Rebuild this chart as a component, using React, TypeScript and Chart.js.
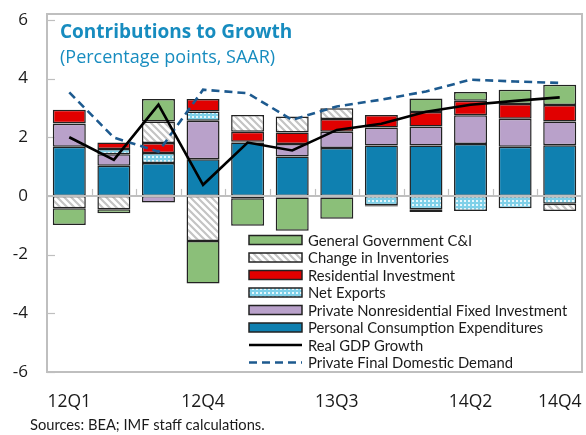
import React, { useEffect, useRef } from 'react';
import { Chart, registerables } from 'chart.js';
Chart.register(...registerables);

const quarters = ['12Q1', '12Q2', '12Q3', '12Q4', '13Q1', '13Q2', '13Q3', '13Q4', '14Q1', '14Q2', '14Q3', '14Q4'];
const shownLabels = ['12Q1', '12Q4', '13Q3', '14Q2', '14Q4'];
const yTicks = [-6, -4, -2, 0, 2, 4, 6];

const personalConsumption = [1.68, 1.03, 1.12, 1.25, 1.82, 1.34, 1.63, 1.72, 1.72, 1.77, 1.68, 1.73];
const privateNonresidential = [0.78, 0.39, -0.22, 1.31, 0.03, 0.43, 0.56, 0.61, 0.65, 0.98, 0.95, 0.81];
const netExports = [0.02, 0.18, 0.34, 0.32, -0.08, -0.05, -0.05, -0.32, -0.45, -0.51, -0.42, -0.27];
const residentialInvestment = [0.46, 0.22, 0.34, 0.42, 0.34, 0.39, 0.43, 0.43, 0.49, 0.49, 0.50, 0.56];
const changeInInventories = [-0.42, -0.45, 0.74, -1.54, 0.57, 0.55, 0.37, -0.04, -0.10, 0, 0, -0.24];
const generalGovernment = [-0.57, -0.14, 0.76, -1.44, -0.94, -1.14, -0.73, 0, 0.46, 0.30, 0.49, 0.69];
const realGdpGrowth = [2.0, 1.23, 3.11, 0.38, 1.82, 1.55, 2.25, 2.46, 2.87, 3.11, 3.24, 3.36];
const privateFinalDemand = [3.53, 1.99, 1.51, 3.62, 3.5, 2.59, 3.05, 3.28, 3.56, 3.96, 3.90, 3.85];

const titleText = 'Contributions to Growth';
const subtitleText = '(Percentage points, SAAR)';
const sourceText = 'Sources: BEA; IMF staff calculations.';

function makeHatch(): CanvasPattern | string {
  const c = document.createElement('canvas');
  c.width = 7; c.height = 7;
  const g = c.getContext('2d');
  if (!g) return '#ddd';
  g.fillStyle = '#ffffff';
  g.fillRect(0, 0, 7, 7);
  g.strokeStyle = '#c4c4c4';
  g.lineWidth = 2.2;
  g.beginPath();
  g.moveTo(-1, -1); g.lineTo(8, 8);
  g.moveTo(-8, -1); g.lineTo(1, 8);
  g.moveTo(6, -1); g.lineTo(15, 8);
  g.stroke();
  return g.createPattern(c, 'repeat') || '#ddd';
}

function makeDots(): CanvasPattern | string {
  const c = document.createElement('canvas');
  c.width = 4; c.height = 4;
  const g = c.getContext('2d');
  if (!g) return '#8fd4ea';
  g.fillStyle = '#7fd0e8';
  g.fillRect(0, 0, 4, 4);
  g.fillStyle = '#e6f7fc';
  g.fillRect(0, 0, 2, 2);
  return g.createPattern(c, 'repeat') || '#8fd4ea';
}

export default function App() {
  const ref = useRef<HTMLCanvasElement | null>(null);

  useEffect(() => {
    const canvas = ref.current;
    if (!canvas) return;
    const hatch = makeHatch();
    const dots = makeDots();
    const barBorder = '#222222';

    const barDs = (label: string, data: number[], fill: any) => ({
      type: 'bar' as const,
      label,
      data,
      backgroundColor: fill,
      borderColor: barBorder,
      borderWidth: 1.5,
      borderSkipped: false,
      barPercentage: 0.74,
      categoryPercentage: 1,
      order: 1,
    });

    const datasets: any[] = [
      barDs('Personal Consumption Expenditures', personalConsumption, '#0f80b0'),
      barDs('Private Nonresidential Fixed Investment', privateNonresidential, '#b9a1ca'),
      barDs('Net Exports', netExports, dots),
      barDs('Residential Investment', residentialInvestment, '#e10000'),
      barDs('Change in Inventories', changeInInventories, hatch),
      barDs('General Government C&I', generalGovernment, '#8bbf79'),
      {
        type: 'line', label: 'Real GDP Growth', data: realGdpGrowth, stack: 'gdp',
        borderColor: '#000000', borderWidth: 2.6, pointRadius: 0, tension: 0, fill: false, order: 0,
      },
      {
        type: 'line', label: 'Private Final Domestic Demand', data: privateFinalDemand, stack: 'pfdd',
        borderColor: '#1d5a8f', borderWidth: 2.6, borderDash: [8, 5], pointRadius: 0, tension: 0, fill: false, order: 0,
      },
    ];

    const legendOrder = [5, 4, 3, 2, 1, 0, 6, 7];

    const decor = {
      id: 'decor',
      beforeDatasetsDraw(chart: any) {
        const { ctx, chartArea } = chart;
        const y = chart.scales.y;
        ctx.save();
        ctx.strokeStyle = '#bfbfbf';
        ctx.lineWidth = 2;
        ctx.strokeRect(chartArea.left, chartArea.top, chartArea.right - chartArea.left, chartArea.bottom - chartArea.top);
        ctx.lineWidth = 1.2;
        yTicks.forEach((v) => {
          const py = Math.round(y.getPixelForValue(v)) + 0.5;
          ctx.beginPath();
          ctx.moveTo(chartArea.left, py);
          ctx.lineTo(chartArea.left + 8, py);
          ctx.stroke();
        });
        ctx.restore();
      },
      afterDatasetsDraw(chart: any) {
        const { ctx, chartArea } = chart;
        const y = chart.scales.y;
        const x = chart.scales.x;
        const y0 = y.getPixelForValue(0);
        ctx.save();
        ctx.strokeStyle = '#bfbfbf';
        ctx.lineWidth = 2;
        ctx.beginPath();
        ctx.moveTo(chartArea.left, y0);
        ctx.lineTo(chartArea.right, y0);
        ctx.stroke();
        ctx.lineWidth = 1.2;
        for (let i = 1; i < quarters.length; i++) {
          const px = Math.round((x.getPixelForValue(i - 1) + x.getPixelForValue(i)) / 2) + 0.5;
          ctx.beginPath();
          ctx.moveTo(px, y0 - 1);
          ctx.lineTo(px, y0 - 7);
          ctx.stroke();
        }
        ctx.restore();
      },
      afterDraw(chart: any) {
        const { ctx } = chart;
        ctx.save();
        // title
        ctx.fillStyle = '#178cbf';
        ctx.textBaseline = 'alphabetic';
        ctx.textAlign = 'left';
        ctx.font = 'bold 19px "Open Sans"';
        ctx.fillText(titleText, 60, 38);
        ctx.font = '18px "Open Sans"';
        ctx.fillText(subtitleText, 60, 63);
        // legend
        const sx = 249, sw = 53, sh = 9, y0 = 240, rowH = 17.5, tx = 308;
        ctx.font = '14.8px Lato';
        legendOrder.forEach((di, k) => {
          const ds = chart.data.datasets[di];
          const cy = y0 + k * rowH;
          if (ds.type === 'line') {
            ctx.save();
            ctx.strokeStyle = ds.borderColor;
            ctx.lineWidth = 2.6;
            ctx.setLineDash(ds.borderDash || []);
            ctx.beginPath();
            ctx.moveTo(sx, cy);
            ctx.lineTo(sx + sw, cy);
            ctx.stroke();
            ctx.restore();
          } else {
            ctx.fillStyle = ds.backgroundColor;
            ctx.fillRect(sx, cy - sh / 2, sw, sh);
            ctx.strokeStyle = barBorder;
            ctx.lineWidth = 1.5;
            ctx.strokeRect(sx, cy - sh / 2, sw, sh);
          }
          ctx.fillStyle = '#1a1a1a';
          ctx.textBaseline = 'middle';
          ctx.fillText(ds.label, tx, cy + 1);
        });
        // source
        ctx.fillStyle = '#1a1a1a';
        ctx.textBaseline = 'alphabetic';
        ctx.font = '14.7px Lato';
        ctx.fillText(sourceText, 30, 430);
        ctx.restore();
      },
    };

    const chart = new Chart(canvas, {
      type: 'bar',
      data: { labels: quarters, datasets },
      options: {
        responsive: false,
        animation: false,
        layout: { padding: { left: 0, top: 14, right: 4, bottom: 0 } },
        plugins: { legend: { display: false }, tooltip: { enabled: false }, title: { display: false } },
        scales: {
          x: {
            stacked: true,
            grid: { display: false, drawTicks: false },
            border: { display: false },
            ticks: {
              autoSkip: false,
              maxRotation: 0,
              padding: 20,
              color: '#1a1a1a',
              font: { family: '"Open Sans"', size: 17.5 },
              callback: (_v: any, i: number) => (shownLabels.includes(quarters[i]) ? quarters[i] : ''),
            },
            afterFit: (s: any) => {
              s.height = 63;
              s.paddingLeft = 0; s.paddingRight = 0; s.paddingTop = 0; s.paddingBottom = 0;
            },
          },
          y: {
            stacked: true,
            min: -6,
            max: 6.2,
            grid: { display: false, drawTicks: false },
            border: { display: false },
            afterBuildTicks: (s: any) => { s.ticks = yTicks.map((v) => ({ value: v })); },
            ticks: {
              padding: 19,
              color: '#1a1a1a',
              font: { family: '"Open Sans"', size: 17 },
              callback: (v: any) => String(v),
            },
            afterFit: (s: any) => {
              s.width = 47;
              s.paddingLeft = 0; s.paddingRight = 0; s.paddingTop = 0; s.paddingBottom = 0;
            },
          },
        },
      },
      plugins: [decor],
    } as any);

    return () => chart.destroy();
  }, []);

  return (
    <div style={{ position: 'absolute', left: 0, top: 0, width: 586, height: 435, background: '#fff' }}>
      <canvas ref={ref} width={586} height={435} />
    </div>
  );
}
